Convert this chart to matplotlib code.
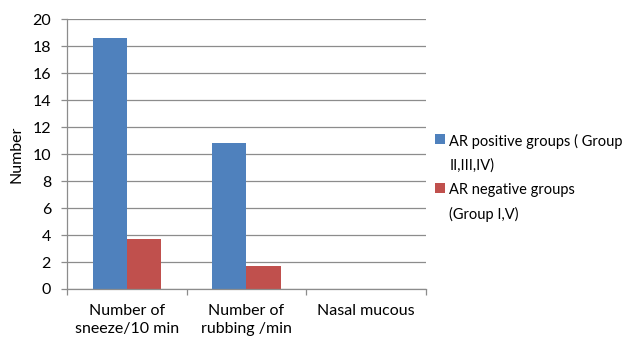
import matplotlib.pyplot as plt
import numpy as np
from matplotlib.patches import Rectangle
from matplotlib.legend_handler import HandlerPatch

plt.rcParams['font.family'] = ['Lato', 'DejaVu Sans']

categories = ['Number of\nsneeze/10 min', 'Number of\nrubbing /min', 'Nasal mucous']
ar_positive = [18.6, 10.8, 0]
ar_negative = [3.7, 1.7, 0]
series_labels = ['AR positive groups ( Group\nII,III,IV)', 'AR negative groups\n(Group I,V)']
y_ticks = list(range(0, 21, 2))

grid_col = '#8c8c8c'


def top_square(legend, orig_handle, xdescent, ydescent, width, height, fontsize):
    # square lined up with the first line of a two-line label
    side = 0.7 * fontsize
    return Rectangle((-xdescent, -ydescent + 1.02 * fontsize), side, side)


fig = plt.figure(figsize=(6.28, 3.4), dpi=100)
ax = fig.add_axes([0.1067, 0.15, 0.5715, 0.794])

x = np.arange(len(categories))
w = 2 / 7
b1 = ax.bar(x - w / 2, ar_positive, w, color='#4F81BD')
b2 = ax.bar(x + w / 2, ar_negative, w, color='#C0504D')

ax.set_xlim(-0.5, len(categories) - 0.5)
ax.set_ylim(0, 20)
ax.set_yticks(y_ticks)
ax.yaxis.grid(True, color=grid_col, linewidth=0.9)
ax.set_axisbelow(True)

ax.set_xticks(x)
ax.set_xticklabels(categories, fontsize=11.5, linespacing=1.35)
ax.set_xticks(np.arange(len(categories) + 1) - 0.5, minor=True)
ax.tick_params(axis='x', which='major', length=0, pad=11)
ax.tick_params(axis='x', which='minor', length=4.5, color=grid_col, width=0.9)
ax.tick_params(axis='y', length=4.5, color=grid_col, width=0.9, labelsize=11.5, pad=7)

for side in ['top', 'right']:
    ax.spines[side].set_visible(False)
for side in ['left', 'bottom']:
    ax.spines[side].set_color(grid_col)
    ax.spines[side].set_linewidth(0.9)

ax.set_ylabel('Number', fontsize=11.5, labelpad=6)

leg = fig.legend([b1.patches[0], b2.patches[0]], series_labels,
                 loc='upper left', bbox_to_anchor=(0.683, 0.622),
                 frameon=False, fontsize=10.5, handlelength=0.7, handleheight=0.7,
                 handletextpad=0.3, labelspacing=0.72, borderaxespad=0,
                 handler_map={Rectangle: HandlerPatch(patch_func=top_square)})
for t in leg.get_texts():
    t.set_linespacing(1.8)

fig.savefig('out.png', dpi=100)
